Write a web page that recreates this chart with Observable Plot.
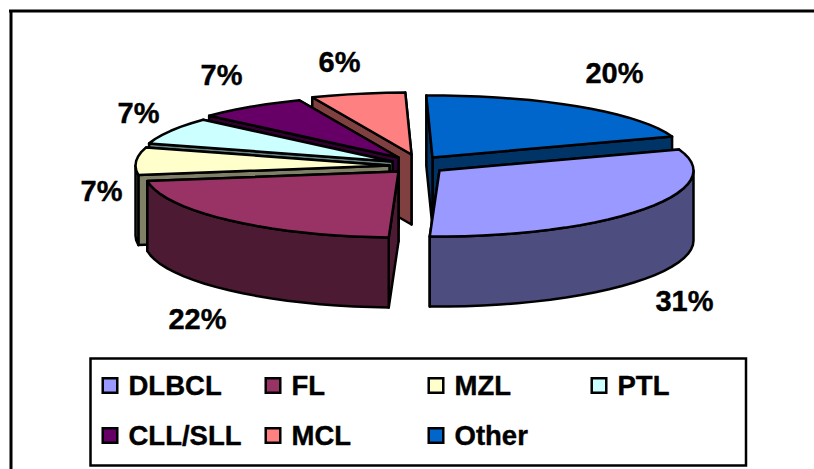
<!DOCTYPE html>
<html>
<head>
<meta charset="utf-8">
<style>html,body{margin:0;padding:0;background:#fff}svg{display:block}</style>
<script src="https://cdn.jsdelivr.net/npm/d3@7"></script>
<script src="https://cdn.jsdelivr.net/npm/@observablehq/plot@0.6"></script>
</head>
<body>
<script>
const categories = ["DLBCL","FL","MZL","PTL","CLL/SLL","MCL","Other"];
const shares = [31,22,7,7,7,6,20];
const topColors = ["#9999FF","#993366","#FFFFCC","#CCFFFF","#660066","#FF8080","#0066CC"];
const wallColors = ["#4D4D80","#4D1A33","#808066","#668080","#330033","#804040","#003366"];

// Layout only: where each exploded slice's tip sits, and pie proportions.
const tipX = [439,398,389,392,398,411,432];
const tipY = [170,171,165,161,157,154,157];
const labelX = [684,197,101,138,221,339,614];
const labelY = [301,319,191,113,75,62,73];
const legendCol = [101,264,427,590,101,264,427];
const legendRow = [385,385,385,385,435,435,435];
const startAngle = 70.6, rx = 254, depth = 70;

const rad = d => d * Math.PI / 180;
const ry = a => 64 - 2 * Math.cos(rad(a));
const onRim = (i, a, dy = 0) => ({
  x: tipX[i] + rx * Math.sin(rad(a)),
  y: tipY[i] - ry(a) * Math.cos(rad(a)) + dy
});
const rim = (i, a0, a1, dy = 0) => {
  const n = Math.max(2, Math.round((a1 - a0) / 4));
  return d3.range(n + 1).map(k => onRim(i, a0 + (a1 - a0) * k / n, dy));
};
let acc = startAngle;
const spans = shares.map(v => { const a0 = acc; acc += v * 3.6; return [a0, acc]; });

const polygons = [];
const add = (pts, fill) => polygons.push({pts: [...pts, pts[0]], fill});
const order = d3.range(categories.length).reverse(); // back to front
for (const i of order) {
  const [a0, a1] = spans[i];
  const tip = {x: tipX[i], y: tipY[i]};
  const down = p => ({x: p.x, y: p.y + depth});
  for (const a of [a1, a0]) {
    const p = onRim(i, a);
    add([tip, p, down(p), down(tip)], wallColors[i]);
  }
  const lo = Math.max(a0, 90), hi = Math.min(a1, 270);
  if (lo < hi) add([...rim(i, lo, hi), ...rim(i, lo, hi, depth).reverse()], wallColors[i]);
  add([tip, ...rim(i, a0, a1)], topColors[i]);
}

const labels = shares.map((v, i) => ({t: v + "%", x: labelX[i], y: labelY[i]}));
const legend = categories.map((c, i) => ({c, x: legendCol[i], y: legendRow[i]}));
const font = "'Liberation Sans', Arial, sans-serif";

const chart = Plot.plot({
  width: 814, height: 469,
  marginTop: 0, marginRight: 0, marginBottom: 0, marginLeft: 0,
  x: {domain: [0, 814], range: [0, 814], axis: null},
  y: {domain: [0, 469], range: [0, 469], axis: null},
  color: {domain: categories, range: topColors},
  style: {background: "#fff", fontFamily: font},
  marks: [
    Plot.ruleX([10.5], {y1: 10, y2: 469, stroke: "#000", strokeWidth: 3}),
    Plot.ruleY([10.5], {x1: 9, x2: 814, stroke: "#000", strokeWidth: 3}),
    ...polygons.map(p => Plot.line(p.pts, {
      x: "x", y: "y", fill: p.fill, stroke: "#000",
      strokeWidth: 2.5, strokeLinejoin: "round"
    })),
    Plot.text(labels, {
      x: "x", y: "y", text: "t", fontSize: 29, fontWeight: 700,
      fill: "#000", stroke: "#000", strokeWidth: 0.4,
      textAnchor: "middle", lineAnchor: "middle"
    }),
    Plot.rect([{}], {
      x1: () => 90.5, x2: () => 746, y1: () => 358.5, y2: () => 465.5,
      fill: "none", stroke: "#000", strokeWidth: 2.5
    }),
    Plot.dot(legend, {
      x: d => d.x + 8.5, y: "y", fill: "c", symbol: "square", r: 8.2,
      stroke: "#000", strokeWidth: 2.5
    }),
    Plot.text(legend, {
      x: d => d.x + 27, y: "y", text: "c", fontSize: 27.5, fontWeight: 700,
      fill: "#000", stroke: "#000", strokeWidth: 0.4,
      textAnchor: "start", lineAnchor: "middle",
      dy: 1, letterSpacing: "1.5px"
    })
  ]
});
document.body.appendChild(chart);
</script>
</body>
</html>
